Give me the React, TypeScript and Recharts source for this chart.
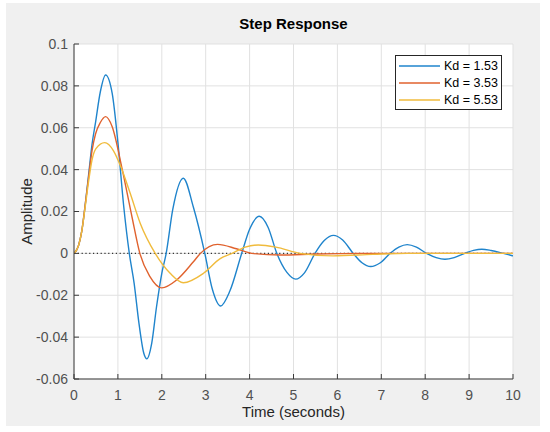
import React from "react";
import {
  LineChart,
  Line,
  XAxis,
  YAxis,
  CartesianGrid,
  ReferenceLine,
} from "recharts";

// time samples (s) and amplitudes, one pair per Kd value
const kd153Time = [0, 0.1, 0.18, 0.26, 0.33, 0.41, 0.49, 0.6, 0.72, 0.87, 1.0, 1.13, 1.26, 1.37, 1.48, 1.59, 1.66, 1.77, 1.88, 2.0, 2.1, 2.25, 2.49, 2.72, 2.98, 3.15, 3.34, 3.55, 3.82, 4.0, 4.22, 4.42, 4.62, 4.85, 5.05, 5.25, 5.49, 5.7, 5.91, 6.12, 6.36, 6.56, 6.76, 6.97, 7.2, 7.4, 7.59, 7.8, 8.03, 8.25, 8.45, 8.66, 8.9, 9.1, 9.29, 9.5, 9.78, 10];
const kd153Amp = [0, 0.0035, 0.011, 0.024, 0.037, 0.052, 0.0625, 0.0772, 0.0852, 0.0764, 0.053, 0.023, 0, -0.0143, -0.0334, -0.0477, -0.0504, -0.043, -0.0255, -0.0095, 0, 0.021, 0.0359, 0.022, 0, -0.017, -0.0251, -0.018, 0, 0.0115, 0.0177, 0.0125, 0, -0.0091, -0.0123, -0.0093, 0, 0.0061, 0.0086, 0.0064, 0, -0.0045, -0.0063, -0.0046, 0, 0.003, 0.0042, 0.003, 0, -0.002, -0.0028, -0.002, 0, 0.0014, 0.002, 0.0014, 0, -0.0012];

const kd353Time = [0, 0.1, 0.18, 0.26, 0.33, 0.41, 0.49, 0.6, 0.72, 0.87, 1.09, 1.32, 1.5, 1.73, 2.0, 2.34, 2.72, 2.88, 3.27, 3.7, 4.05, 4.7, 5.5, 6.5, 10];
const kd353Amp = [0, 0.0035, 0.011, 0.024, 0.036, 0.049, 0.057, 0.0625, 0.0653, 0.0605, 0.041, 0.0175, 0, -0.0111, -0.0165, -0.0127, -0.004, 0, 0.0043, 0.0022, 0, -0.0008, -0.0003, 0, 0];

const kd553Time = [0, 0.1, 0.18, 0.26, 0.33, 0.41, 0.5, 0.7, 0.9, 1.06, 1.28, 1.51, 1.85, 2.19, 2.49, 2.95, 3.33, 3.6, 3.9, 4.2, 4.6, 5.15, 5.9, 6.8, 7.6, 10];
const kd553Amp = [0, 0.0035, 0.011, 0.023, 0.034, 0.0446, 0.05, 0.0529, 0.049, 0.0417, 0.0287, 0.0143, 0, -0.0095, -0.014, -0.0095, -0.0025, 0, 0.003, 0.004, 0.003, 0, -0.0012, -0.0005, 0, 0];

const seriesNames = ["Kd = 1.53", "Kd = 3.53", "Kd = 5.53"];
const seriesColors = ["#1f84cc", "#e0622e", "#f0bb3c"];

const xTicks = [0, 1, 2, 3, 4, 5, 6, 7, 8, 9, 10];
const yTicks = [-0.06, -0.04, -0.02, 0, 0.02, 0.04, 0.06, 0.08, 0.1];

const toPoints = (ts: number[], vs: number[]) => ts.map((t, i) => ({ t, v: vs[i] }));
const series = [
  toPoints(kd153Time, kd153Amp),
  toPoints(kd353Time, kd353Amp),
  toPoints(kd553Time, kd553Amp),
];

const FONT = "'Liberation Sans', Arial, Helvetica, sans-serif";
const AXIS = "#3a3a3a";
const fmt = (v: number) => String(+v.toFixed(2));

export default function App() {
  const tickStyle = { fontSize: 14, fill: "#505050", fontFamily: FONT };
  return (
    <div style={{ position: "absolute", left: 0, top: 0, width: 550, height: 432, background: "#fff" }}>
      <div style={{ position: "absolute", left: 6, top: 3, width: 534, height: 423, background: "#f0f0f0" }} />
      <div style={{ position: "absolute", left: 0, top: 0 }}>
        <LineChart width={550} height={432} margin={{ top: 44, right: 37, bottom: 0, left: 0 }}>
          <CartesianGrid stroke="#e1e1e1" fill="#fff" strokeWidth={1} />
          <XAxis
            dataKey="t"
            type="number"
            domain={[0, 10]}
            ticks={xTicks}
            height={53}
            tickSize={-5}
            tickMargin={16}
            tick={tickStyle}
            tickLine={{ stroke: AXIS }}
            axisLine={{ stroke: AXIS }}
            allowDataOverflow
          />
          <XAxis
            xAxisId="top"
            orientation="top"
            type="number"
            domain={[0, 10]}
            ticks={xTicks}
            height={0}
            tickSize={-5}
            tick={false}
            tickLine={{ stroke: AXIS }}
            axisLine={{ stroke: AXIS }}
          />
          <YAxis
            type="number"
            domain={[-0.06, 0.1]}
            ticks={yTicks}
            width={74}
            tickSize={-5}
            tickMargin={11}
            tick={tickStyle}
            tickFormatter={fmt}
            tickLine={{ stroke: AXIS }}
            axisLine={{ stroke: AXIS }}
            allowDataOverflow
          />
          <YAxis
            yAxisId="right"
            orientation="right"
            type="number"
            domain={[-0.06, 0.1]}
            ticks={yTicks}
            width={0}
            tickSize={-5}
            tick={false}
            tickLine={{ stroke: AXIS }}
            axisLine={{ stroke: AXIS }}
          />
          <ReferenceLine y={0} stroke="#333" strokeDasharray="1.2 2.6" strokeWidth={1.2} />
          {series.map((pts, i) => (
            <Line
              key={seriesNames[i]}
              data={pts}
              dataKey="v"
              name={seriesNames[i]}
              type="monotone"
              stroke={seriesColors[i]}
              strokeWidth={1.4}
              dot={false}
              isAnimationActive={false}
            />
          ))}
        </LineChart>
      </div>
      <svg width={550} height={432} style={{ position: "absolute", left: 0, top: 0, pointerEvents: "none" }}>
        <text x={293.5} y={29} textAnchor="middle" fontFamily={FONT} fontSize={15} fontWeight="bold" fill="#000">
          Step Response
        </text>
        <text x={293.5} y={417} textAnchor="middle" fontFamily={FONT} fontSize={15} fill="#262626">
          Time (seconds)
        </text>
        <text
          x={32}
          y={211.5}
          textAnchor="middle"
          fontFamily={FONT}
          fontSize={15}
          fill="#262626"
          transform="rotate(-90 32 211.5)"
        >
          Amplitude
        </text>
      </svg>
      <div
        style={{
          position: "absolute",
          left: 395,
          top: 55,
          width: 107,
          height: 55,
          boxSizing: "border-box",
          border: "1px solid #262626",
          background: "#fff",
          paddingTop: 2,
          fontFamily: FONT,
          fontSize: 12.5,
          color: "#000",
        }}
      >
        {seriesNames.map((name, i) => (
          <div key={name} style={{ display: "flex", alignItems: "center", height: 16.7 }}>
            <div style={{ marginLeft: 3, width: 41, height: 2, background: seriesColors[i], opacity: 0.75 }} />
            <span style={{ marginLeft: 4, lineHeight: "14px" }}>{name}</span>
          </div>
        ))}
      </div>
    </div>
  );
}
